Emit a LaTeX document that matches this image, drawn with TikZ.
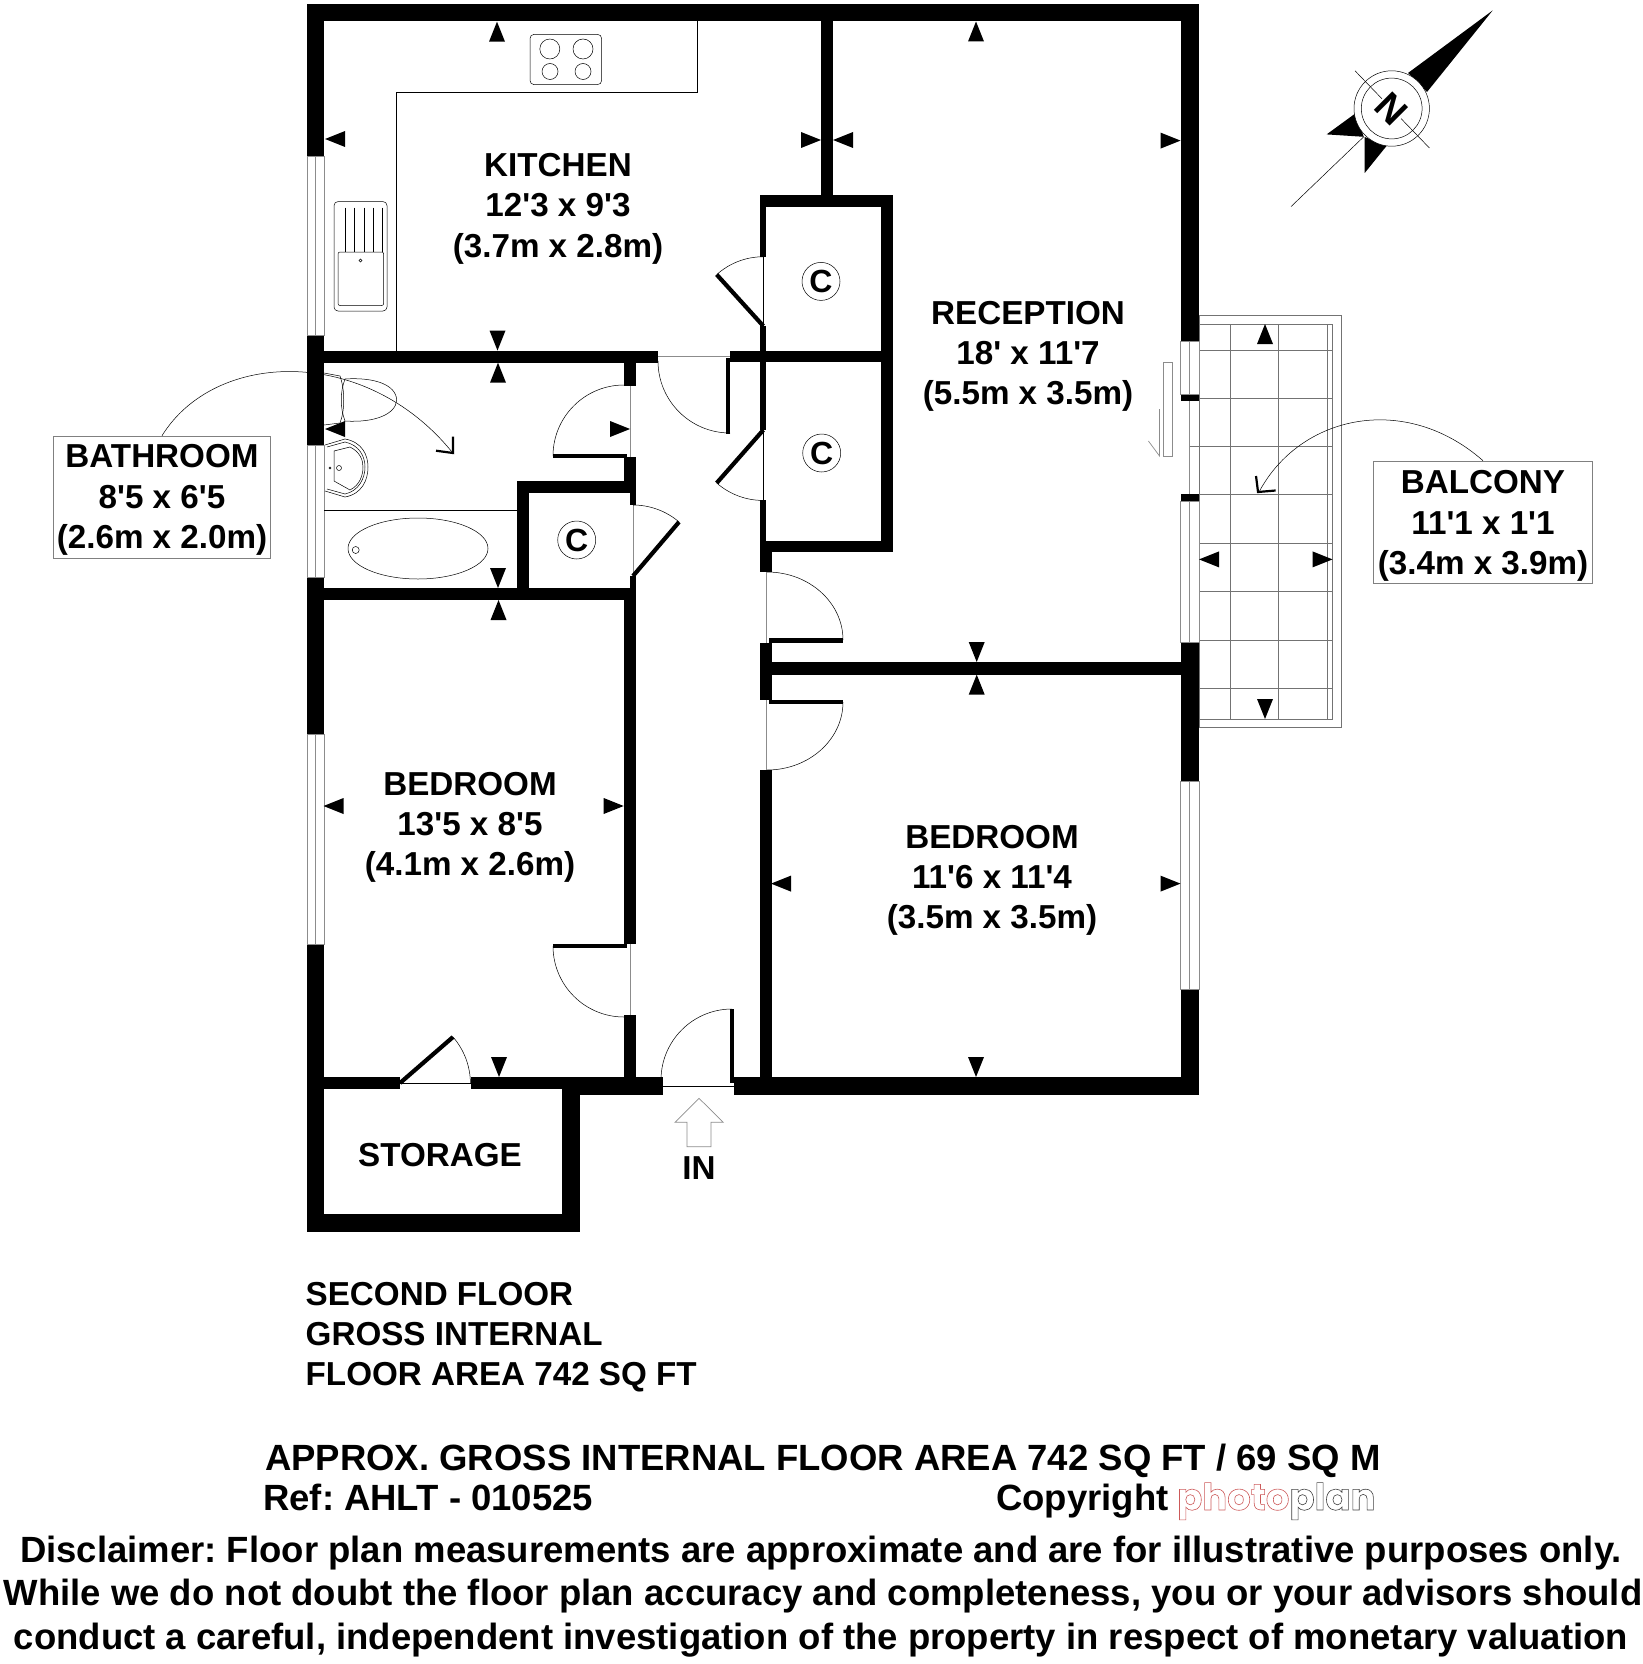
\documentclass[tikz,border=0pt]{standalone}
\usepackage{fontspec}
\setmainfont{Liberation Sans}
\newfontfamily\logofont{Poppins}
\usetikzlibrary{positioning}
\newcommand{\ft}{\textquotesingle}
\tikzset{
	wall/.style={fill=black,draw=none},
	glaze/.style={draw=black!45,line width=0.7pt},
	fine/.style={draw=black,line width=0.5pt},
	leaf/.style={draw=black,line width=4.2pt},
	paving/.style={draw=black!55,line width=0.7pt},
	room/.style={font=\fontsize{33.2}{40.2}\selectfont\bfseries,align=center,inner sep=0pt},
	note/.style={font=\fontsize{33.2}{40.2}\selectfont\bfseries,align=left,inner sep=0pt},
	foot/.style={font=\fontsize{36.5}{43.5}\selectfont\bfseries,inner sep=0pt,anchor=base west},
	tag/.style={room,draw=black!50,line width=0.6pt,fill=white},
	cupboard/.style={font=\fontsize{32}{32}\selectfont\bfseries,circle,draw=black,line width=0.5pt,minimum size=38pt,inner sep=0pt},
	dimtick/.pic={\fill (0,0)--(-8,20)--(8,20)--cycle;}
}
\begin{document}
\frenchspacing
\begin{tikzpicture}[x=1pt,y=1pt,yscale=-1]
	\useasboundingbox (0,0) rectangle (1642,1664);
	% balcony
	\draw[paving] (1199,315) rectangle (1341.5,727);
	\draw[paving] (1199,324) rectangle (1332.5,719);
	\draw[paving] (1230.8,324)--(1230.8,719);
	\draw[paving] (1278.5,324)--(1278.5,719);
	\draw[paving] (1327,324)--(1327,719);
	\draw[paving] (1199,350.5)--(1332.5,350.5);
	\draw[paving] (1189.5,398.6)--(1332.5,398.6);
	\draw[paving] (1189.5,446.7)--(1332.5,446.7);
	\draw[paving] (1189.5,494.8)--(1332.5,494.8);
	\draw[paving] (1199,543.4)--(1332.5,543.4);
	\draw[paving] (1199,591)--(1332.5,591);
	\draw[paving] (1199,640)--(1332.5,640);
	\draw[paving] (1199,688)--(1332.5,688);
	% labels and leaders
	\node[tag,minimum width=217pt,minimum height=122pt] (bathtag) at (162,497) {\rule{0pt}{29pt}BATHROOM\\8\ft 5 x 6\ft 5\\(2.6m x 2.0m)};
	\node[tag,minimum width=219pt,minimum height=122pt] (balctag) at (1483,522) {\rule{0pt}{31pt}BALCONY\\11\ft 1 x 1\ft 1\\(3.4m x 3.9m)};
	\coordinate (bathtip) at (452,452);
	\coordinate (balctip) at (1259,492);
	\draw[fine] (bathtag.north) .. controls (215,350) and (365,345) .. (bathtip);
	\draw[fine] (balctag.north) .. controls (1405,392) and (1300,415) .. (balctip);
	\draw[draw=black,line width=2.2pt] (436,450.7)--(453,453)--(453,436.7);
	\draw[draw=black,line width=2.2pt] (1256,476)--(1258,492)--(1275.6,490.5);
	% outer walls
	\fill[wall] (307,4) rectangle (1199,21);
	\fill[wall] (307,4) rectangle (324,156);
	\fill[wall] (307,335) rectangle (324,445);
	\fill[wall] (307,577) rectangle (324,734);
	\fill[wall] (307,944) rectangle (324,1232);
	\fill[wall] (307,1213.5) rectangle (579.5,1232);
	\fill[wall] (562,1077) rectangle (579.5,1232);
	\fill[wall] (1180.5,4) rectangle (1199,341);
	\fill[wall] (1180.5,394) rectangle (1199,401);
	\fill[wall] (1180.5,494) rectangle (1199,501);
	\fill[wall] (1180.5,642) rectangle (1199,781);
	\fill[wall] (1180.5,989) rectangle (1199,1095);
	\fill[wall] (734,1077) rectangle (1199,1095);
	\fill[wall] (579,1077) rectangle (663,1095);
	\fill[wall] (324,1077) rectangle (400,1089);
	\fill[wall] (471,1077) rectangle (579,1089);
	% inner walls
	\fill[wall] (821,21) rectangle (833,195);
	\fill[wall] (324,351) rectangle (658,363);
	\fill[wall] (730,351) rectangle (893,362);
	\fill[wall] (760,195) rectangle (893,207);
	\fill[wall] (881,195) rectangle (893,552);
	\fill[wall] (760,541) rectangle (893,552);
	\fill[wall] (760,195) rectangle (766,257);
	\fill[wall] (760,326) rectangle (766,430);
	\fill[wall] (760,500) rectangle (766,552);
	\fill[wall] (760,541) rectangle (772,572);
	\fill[wall] (760,642.5) rectangle (772,700);
	\fill[wall] (760,770) rectangle (772,1095);
	\fill[wall] (772,662) rectangle (1181,675);
	\fill[wall] (624,363) rectangle (636,386);
	\fill[wall] (624,457) rectangle (636,481);
	\fill[wall] (517,481) rectangle (636,493.3);
	\fill[wall] (630,493) rectangle (636,505);
	\fill[wall] (517,481) rectangle (529,600);
	\fill[wall] (630,576) rectangle (636,600);
	\fill[wall] (324,588) rectangle (636,600);
	\fill[wall] (624,600) rectangle (636,944);
	\fill[wall] (624,1015) rectangle (636,1089);
	% windows
	\draw[glaze] (307,156) rectangle (324,335);
	\draw[glaze] (315.5,156)--(315.5,335);
	\draw[glaze] (307,445) rectangle (324,577);
	\draw[glaze] (315.5,445)--(315.5,577);
	\draw[glaze] (307,734) rectangle (324,944);
	\draw[glaze] (315.5,734)--(315.5,944);
	\draw[glaze] (1180.5,341) rectangle (1199,394);
	\draw[glaze] (1189.5,341)--(1189.5,394);
	\draw[glaze] (1189.5,401)--(1189.5,494);
	\draw[glaze] (1180.5,501) rectangle (1199,642);
	\draw[glaze] (1189.5,501)--(1189.5,642);
	\draw[glaze] (1180.5,781) rectangle (1199,989);
	\draw[glaze] (1189.5,781)--(1189.5,989);
	% doors
	\draw[glaze] (658,356)--(730,356);
	\draw[fine] (658,361) arc (180:90:72);
	\fill[wall] (726,358) rectangle (730,433.5);
	\draw[glaze] (630,386)--(630,457);
	\draw[fine] (624,385) arc (270:180:71);
	\fill[wall] (553,454) rectangle (627,457.5);
	\draw[glaze] (633,505)--(633,576);
	\draw[fine] (633,505) arc (270:310.4:71);
	\draw[leaf] (633,576)--(679,522);
	\draw[fine] (763.3,257)--(763.3,326);
	\draw[fine] (716.7,274.6) arc (228:270:69.5);
	\draw[leaf] (763.3,326)--(716.7,274.6);
	\draw[fine] (763.3,430)--(763.3,500);
	\draw[fine] (716.7,483) arc (131.3:90:70);
	\draw[leaf] (763.3,430)--(716.7,483);
	\draw[glaze] (766.7,572)--(766.7,642.5);
	\draw[fine] (767,572) arc [start angle=270,end angle=360,x radius=76,y radius=68];
	\fill[wall] (769,638) rectangle (843,642.5);
	\draw[glaze] (766.7,700)--(766.7,770);
	\draw[fine] (843,702) arc [start angle=0,end angle=90,x radius=76,y radius=68];
	\fill[wall] (769,699.6) rectangle (843,704);
	\draw[glaze] (630,944)--(630,1015);
	\fill[wall] (553,944) rectangle (627,948);
	\draw[fine] (553,946) arc (180:90:71);
	\draw[fine] (400,1083)--(471,1083);
	\draw[leaf] (400,1083)--(453,1037);
	\draw[fine] (453,1037) arc (319:360:71);
	\draw[fine] (663,1086)--(734,1086);
	\fill[wall] (730,1009) rectangle (734.3,1083);
	\draw[fine] (732,1009) arc (270:180:71);
	% kitchen fittings
	\draw[fine] (697.5,21)--(697.5,92.5)--(396,92.5)--(396,351);
	\draw[fine,rounded corners=4pt] (530,34.4) rectangle (601.6,84.6);
	\draw[fine] (549.8,49) circle [radius=10];
	\draw[fine] (583,49) circle [radius=10];
	\draw[fine] (550,71.5) circle [radius=8];
	\draw[fine] (583,71.5) circle [radius=8];
	\draw[fine,rounded corners=4pt] (334,201.6) rectangle (387,311);
	\draw[fine,rounded corners=2pt] (338,252) rectangle (383.7,305.5);
	\draw[fine] (345.7,207.5)--(345.7,251.8);
	\draw[fine] (354.7,207.5)--(354.7,251.8);
	\draw[fine] (364,207.5)--(364,251.8);
	\draw[fine] (373,207.5)--(373,251.8);
	\draw[fine] (382,207.5)--(382,251.8);
	\draw[fine] (360.4,260.5) circle [radius=1.5];
	% bathroom fittings
	\draw[fine] (324,373)--(340,376) (324,425)--(340,423);
	\draw[fine] (340,376) .. controls (345,390) and (345,410) .. (340,423);
	\draw[fine] (345,379) .. controls (340,392) and (340,408) .. (345,421);
	\draw[fine] (345,379) .. controls (375,377) and (396,385) .. (396.7,400) .. controls (396,414) and (375,423) .. (345,421);
	\draw[fine] (325,445)--(345,439) .. controls (362,442) and (368,455) .. (368,467) .. controls (368,480) and (362,494) .. (345,497)--(325,491);
	\draw[fine] (327,447)--(345,442) .. controls (359,445) and (365,456) .. (365,467) .. controls (365,478) and (359,491) .. (345,494)--(327,489);
	\draw[fine] (334,451)--(350,447) .. controls (360,452) and (363,460) .. (363,467) .. controls (363,475) and (360,485) .. (350,490)--(334,481)--cycle;
	\draw[fine] (339,468) circle [radius=2.5];
	\draw[fine] (330,468) circle [radius=1];
	\draw[fine] (324,510)--(517,510);
	\draw[fine] (418,548.5) ellipse [x radius=70,y radius=30.5];
	\draw[fine] (355.7,550) circle [radius=3.5];
	% sliding door
	\draw[glaze] (1163,362) rectangle (1172.6,456);
	\draw[glaze] (1159.5,409)--(1159.5,456)--(1148.4,441);
	% dimension ticks
	\pic[rotate=180] at (497,21.7) {dimtick};
	\pic[rotate=270] at (325,139) {dimtick};
	\pic[rotate=90] at (821,140) {dimtick};
	\pic at (497.5,350.6) {dimtick};
	\pic[rotate=180] at (976,21.5) {dimtick};
	\pic[rotate=270] at (833,140) {dimtick};
	\pic[rotate=90] at (1180.5,140.6) {dimtick};
	\pic at (976.7,662) {dimtick};
	\pic[rotate=180] at (498,362.7) {dimtick};
	\pic[rotate=270] at (325,429) {dimtick};
	\pic[rotate=90] at (630,429) {dimtick};
	\pic at (498,588) {dimtick};
	\pic[rotate=180] at (498.5,600) {dimtick};
	\pic[rotate=270] at (323.5,806) {dimtick};
	\pic[rotate=90] at (623.7,806) {dimtick};
	\pic at (499,1077) {dimtick};
	\pic[rotate=180] at (976.7,674.6) {dimtick};
	\pic[rotate=270] at (771,883.6) {dimtick};
	\pic[rotate=90] at (1180.5,883.6) {dimtick};
	\pic at (976,1077) {dimtick};
	\pic[rotate=180] at (1265,324) {dimtick};
	\pic at (1265,719) {dimtick};
	\pic[rotate=270] at (1199,559.4) {dimtick};
	\pic[rotate=90] at (1332.5,559.4) {dimtick};
	% compass
	\draw[fine] (1291,206.6)--(1363.7,136.8);
	\fill (1492.7,10.4)--(1408,73)--(1427,92)--cycle;
	\fill (1326.6,134.4)--(1356,113)--(1363.7,136.8)--cycle;
	\fill (1364.7,173)--(1364.7,137)--(1386.5,146)--cycle;
	\draw[fine,fill=white] (1391.7,108.5) circle [radius=37.7];
	\draw[fine] (1391.7,108.5) circle [radius=30.4];
	\draw[fine] (1355,70.8)--(1429.4,148);
	\node[font=\fontsize{38}{38}\selectfont\bfseries,rotate=-45,inner sep=0pt,fill=white] (north) at (1391.7,108.5) {N};
	% room names
	\node[room] (kitchen) at (558,208.7) {KITCHEN\\12\ft 3 x 9\ft 3\\(3.7m x 2.8m)};
	\node[room] (reception) at (1028,356.2) {RECEPTION\\18\ft{} x 11\ft 7\\(5.5m x 3.5m)};
	\node[room] (bedone) at (470,827.2) {BEDROOM\\13\ft 5 x 8\ft 5\\(4.1m x 2.6m)};
	\node[room] (bedtwo) at (992,880.2) {BEDROOM\\11\ft 6 x 11\ft 4\\(3.5m x 3.5m)};
	\node[room] (storage) at (440,1155) {STORAGE};
	\node[cupboard] (cupa) at (821,281.4) {C};
	\node[cupboard] (cupb) at (821.7,453) {C};
	\node[cupboard] (cupc) at (576.7,540) {C};
	% entrance
	\draw[glaze] (699,1098.3)--(723.3,1122.3)--(711,1122.3)--(711,1146.7)--(687,1146.7)--(687,1122.3)--(675,1122.3)--cycle;
	\node[room] (entry) at (699,1167.7) {IN};
	% footer
	\node[note,anchor=north west] (floor) at (305.5,1282) {SECOND FLOOR\\GROSS INTERNAL\\FLOOR AREA 742 SQ FT};
	\node[foot] (area) at (265,1470) {APPROX. GROSS INTERNAL FLOOR AREA 742 SQ FT / 69 SQ M};
	\node[foot] (ref) at (263,1510) {Ref: AHLT - 010525};
	\node[foot] (copy) at (996,1510) {Copyright};
	\node[font=\logofont\bfseries\fontsize{37}{37}\selectfont,inner sep=0pt,anchor=base west] (logo) at (1177,1510) {\special{pdf:code 1 Tr 0.6 w 0.8 0.35 0.35 RG}photo\special{pdf:code 0.25 0.25 0.25 RG}plan\special{pdf:code 0 Tr 0 0 0 RG}};
	\node[foot,anchor=base] (disca) at (821,1562) {Disclaimer: Floor plan measurements are approximate and are for illustrative purposes only.};
	\node[foot,anchor=base] (discb) at (823,1605.5) {While we do not doubt the floor plan accuracy and completeness, you or your advisors should};
	\node[foot,anchor=base] (discc) at (821,1649) {conduct a careful, independent investigation of the property in respect of monetary valuation};
\end{tikzpicture}
\end{document}
